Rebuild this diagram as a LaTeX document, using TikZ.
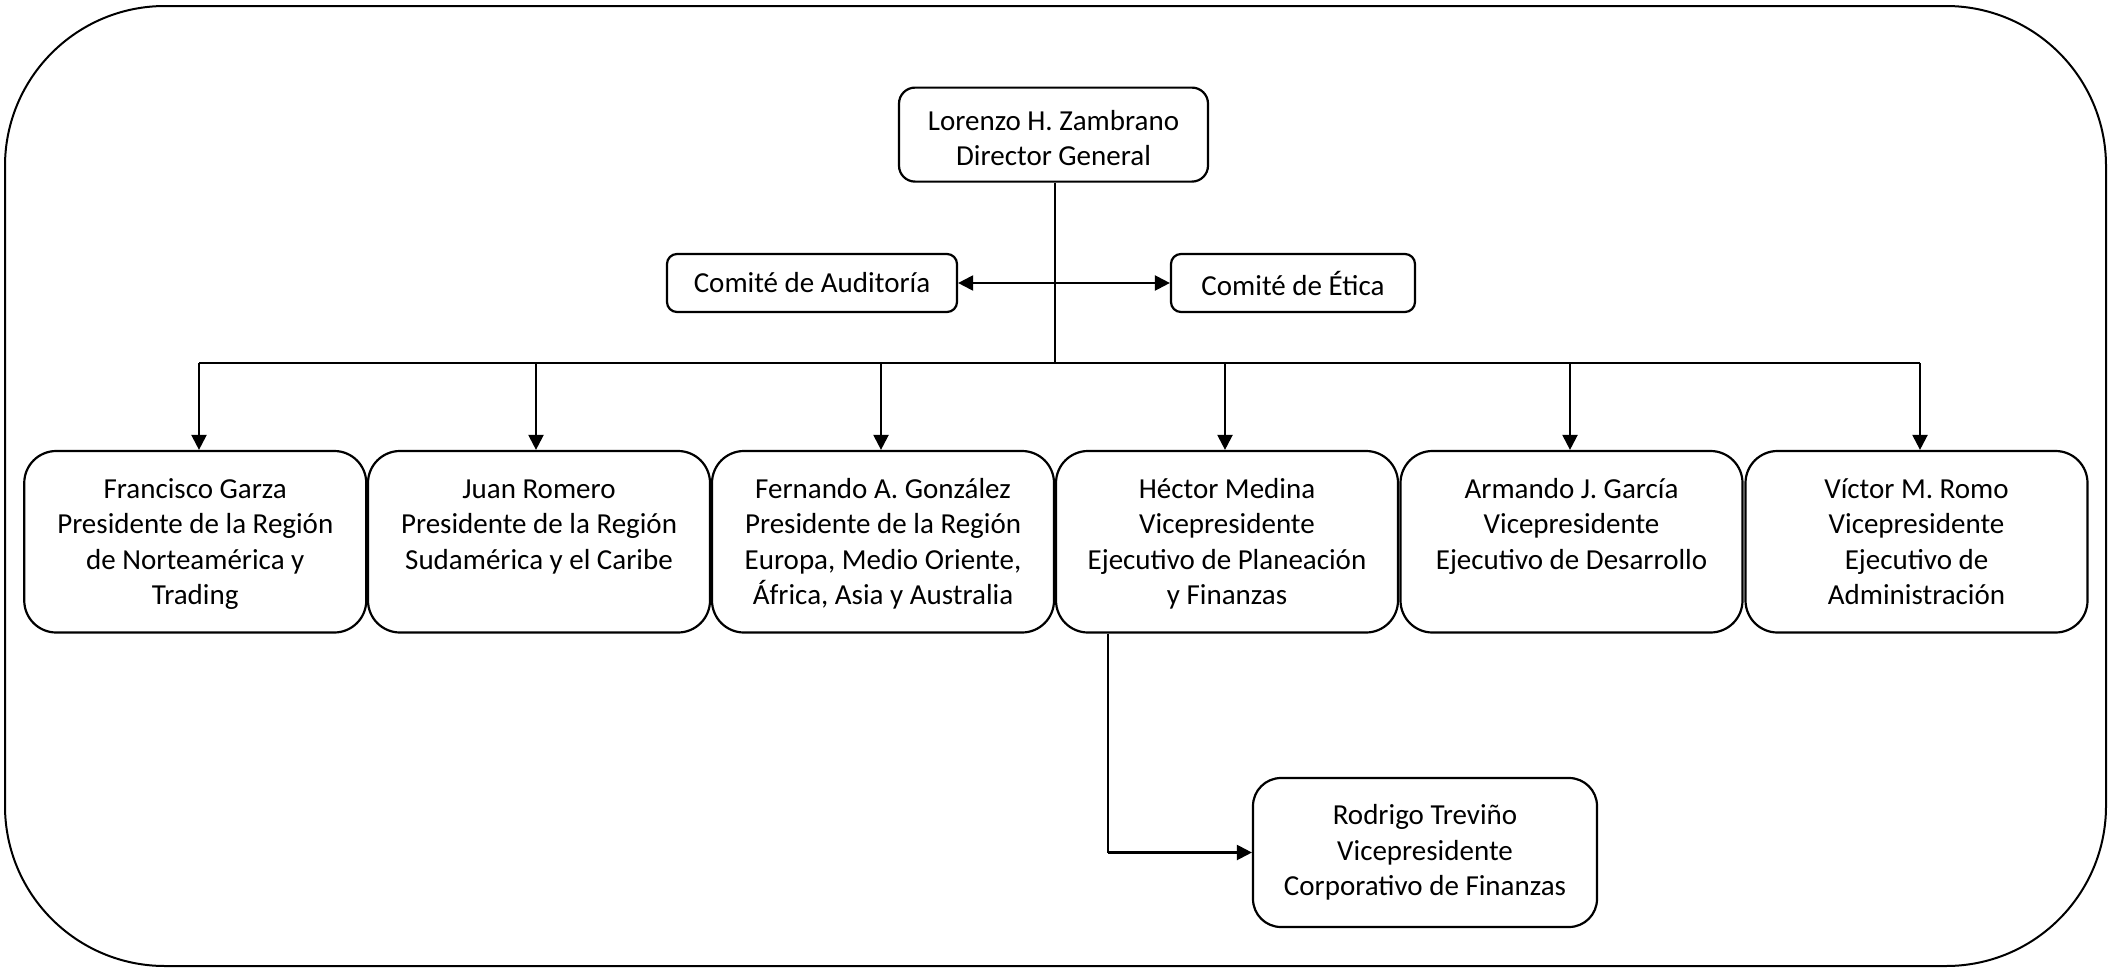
\documentclass[tikz,border=0pt]{standalone}
\usepackage{fontspec}
\setmainfont{Carlito}
\usetikzlibrary{arrows.meta}
\newcommand\tstrut{\rule{0pt}{27.5pt}}
\newcommand\bstrut{\rule[-7.9pt]{0pt}{7.9pt}}
\begin{document}
\begin{tikzpicture}[x=1pt,y=-1pt,
  box/.style={draw, line width=2.2pt, align=center, inner sep=0pt,
    font=\fontsize{29}{35.4}\selectfont},
  rowbox/.style={box, minimum width=342pt, minimum height=181.5pt, rounded corners=32pt},
  topbox/.style={box, minimum width=309pt, minimum height=94pt, rounded corners=16pt},
  combox/.style={box, minimum height=58pt, rounded corners=10pt},
  subbox/.style={box, minimum width=344pt, minimum height=149pt, rounded corners=28pt},
  thick line/.style={line width=2.2pt},
  thin line/.style={line width=1.1pt},
  arr/.style={line width=2.2pt, -{Triangle[length=15pt,width=15pt]}},
  darr/.style={line width=2.2pt, {Triangle[length=15pt,width=15pt]}-{Triangle[length=15pt,width=15pt]}},
  frame/.style={draw, line width=2pt, rounded corners=160pt}]
\useasboundingbox (0,0) rectangle (2110,969);
\draw[frame] (5,6) rectangle (2106,966);

\node[topbox] (dg) at (1053.5,134.6) {\tstrut Lorenzo H. Zambrano\\Director General};
\node[combox, minimum width=290pt] (aud) at (812,283) {Comité de Auditoría};
\node[combox, minimum width=244pt] (eti) at (1293,283) {Comité de Ética};

\node[rowbox] (b1) at (195.25,541.75) {\tstrut Francisco Garza\\Presidente de la Región\\de Norteamérica y\\Trading\bstrut};
\node[rowbox] (b2) at (539,541.75) {\tstrut Juan Romero\\Presidente de la Región\\Sudamérica y el Caribe\\\bstrut};
\node[rowbox] (b3) at (883,541.75) {\tstrut Fernando A. González\\Presidente de la Región\\Europa, Medio Oriente,\\África, Asia y Australia\bstrut};
\node[rowbox] (b4) at (1227,541.75) {\tstrut Héctor Medina\\Vicepresidente\\Ejecutivo de Planeación\\y Finanzas\bstrut};
\node[rowbox] (b5) at (1571.5,541.75) {\tstrut Armando J. García\\Vicepresidente\\Ejecutivo de Desarrollo\\\bstrut};
\node[rowbox] (b6) at (1916.5,541.75) {\tstrut Víctor M. Romo\\Vicepresidente\\Ejecutivo de\\Administración\bstrut};

\node[subbox] (rt) at (1425,852.5) {Rodrigo Treviño\\Vicepresidente\\Corporativo de Finanzas};

% trunk and bus
\coordinate (j) at (1055,363);
\coordinate (t1) at (199,363);
\coordinate (t2) at (536,363);
\coordinate (t3) at (881,363);
\coordinate (t4) at (1225,363);
\coordinate (t5) at (1570,363);
\coordinate (t6) at (1920,363);
\draw[thin line] (dg.south -| j) -- (j);
\draw[thick line] (t1) -- (t6);
\draw[arr] (t1) -- (t1 |- b1.north);
\draw[arr] (t2) -- (t2 |- b2.north);
\draw[arr] (t3) -- (t3 |- b3.north);
\draw[arr] (t4) -- (t4 |- b4.north);
\draw[arr] (t5) -- (t5 |- b5.north);
\draw[arr] (t6) -- (t6 |- b6.north);

% committees
\draw[darr] (aud.east) -- (eti.west);

% sub branch
\coordinate (hx) at (1108,633);
\coordinate (hc) at (1108,852.5);
\draw[thin line] (hx |- b4.south) -- (hc);
\draw[arr] (hc) -- (rt.west);
\end{tikzpicture}
\end{document}
